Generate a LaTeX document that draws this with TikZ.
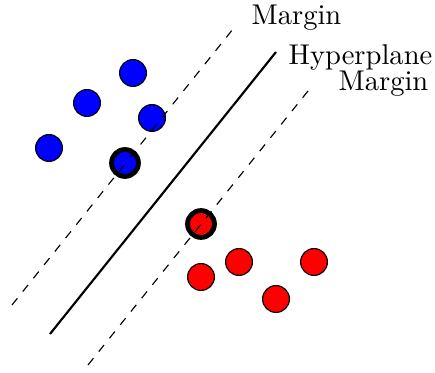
\documentclass[tikz,border=0pt]{standalone}
\usepackage{tikz}

\begin{document}
\begin{tikzpicture}[
    x=0.35pt, y=-0.35pt,
    pt/.style={circle, draw=black, line width=0.4pt,
               minimum size=9.4pt, inner sep=0pt},
    support/.style={pt, line width=1.7pt},
    marginline/.style={black, dashed, line width=0.4pt},
    hyperline/.style={black, line width=0.75pt},
    lbl/.style={anchor=base west, inner sep=0pt}
]

% One unit is one pixel of the 435 x 373 frame, y grows downwards.
\useasboundingbox (0,0) rectangle (435,373);

% ---------- class one (blue) ----------
\foreach \n/\px/\py in {b1/133/73, b2/87/103, b3/152/118, b4/49/148}
  \node[pt, fill=blue] (\n) at (\px,\py) {};
\node[support, fill=blue] (sb) at (125,163) {};

% ---------- class two (red) ----------
\foreach \n/\px/\py in {r1/239/262, r2/314/262, r3/201/277, r4/276/299}
  \node[pt, fill=red] (\n) at (\px,\py) {};
\node[support, fill=red] (sr) at (201,224) {};

% ---------- hyperplane and margins ----------
\coordinate (upLow)  at (12,305);
\coordinate (upTop)  at (237,24);
\coordinate (hypLow) at (50,334);
\coordinate (hypTop) at (276,52);
\coordinate (dnLow)  at (88,365);
\coordinate (dnTop)  at (312,86);

\draw[marginline] (upLow) -- (upTop);
\draw[hyperline]  (hypLow) -- (hypTop);
\draw[marginline] (dnLow) -- (dnTop);

% ---------- labels ----------
\node[lbl] (lblUp)  at ([shift={(14,0.5)}]upTop)   {Margin};
\node[lbl] (lblHyp) at ([shift={(12,12.5)}]hypTop) {Hyperplane};
\node[lbl] (lblDn)  at ([shift={(26,4.5)}]dnTop)   {Margin};

\end{tikzpicture}
\end{document}
